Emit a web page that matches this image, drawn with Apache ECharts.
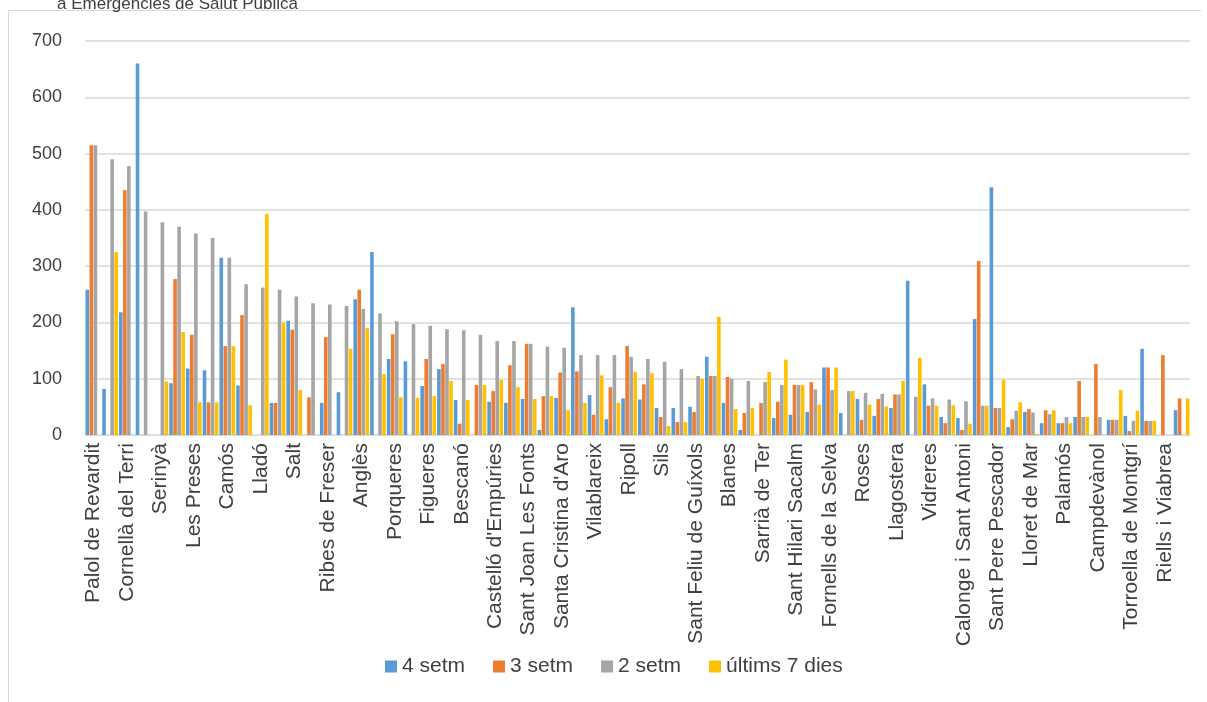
<!DOCTYPE html>
<html>
<head>
<meta charset="utf-8">
<script src="https://cdn.jsdelivr.net/npm/echarts@6/dist/echarts.min.js"></script>
<style>
  html, body { margin: 0; padding: 0; background: #fff; }
  #box { position: absolute; left: 8px; top: 10px; width: 1192px; height: 700px; border: 1px solid #d9d9d9; border-bottom: none; border-right: none; }
  #main { width: 1207px; height: 702px; }
</style>
</head>
<body>
<div id="box"></div>
<div id="main"></div>
<script>
// municipis (una etiqueta visible de cada dues)
var municipis = [
  'Palol de Revardit', 'Sant Julià de Ramis', 'Cornellà del Terri', 'Celrà', 'Serinyà', 'Sant Gregori',
  'Les Preses', 'Bordils', 'Camós', 'Vilobí d\'Onyar', 'Lladó', 'Cassà de la Selva', 'Salt', 'Besalú',
  'Ribes de Freser', 'Banyoles', 'Anglès', 'Olot', 'Porqueres', 'Quart', 'Figueres', 'Girona', 'Bescanó',
  'Sant Joan de les Abadesses', 'Castelló d\'Empúries', 'Llançà', 'Sant Joan Les Fonts', 'Breda',
  'Santa Cristina d\'Aro', 'Puigcerdà', 'Vilablareix', 'Castell-Platja d\'Aro', 'Ripoll', 'Sant Joan de Mollet',
  'Sils', 'Maçanet de la Selva', 'Sant Feliu de Guíxols', 'Hostalric', 'Blanes', 'Santa Coloma de Farners',
  'Sarrià de Ter', 'La Bisbal d\'Empordà', 'Sant Hilari Sacalm', 'Tossa de Mar', 'Fornells de la Selva',
  'Vilafant', 'Roses', 'Palafrugell', 'Llagostera', 'Arbúcies', 'Vidreres', 'L\'Escala',
  'Calonge i Sant Antoni', 'Caldes de Malavella', 'Sant Pere Pescador', 'Santa Cristina', 'Lloret de Mar',
  'Empuriabrava', 'Palamós', 'Sant Antoni', 'Campdevànol', 'Llagostera 2', 'Torroella de Montgrí',
  'Sant Jaume de Llierca', 'Riells i Viabrea', 'Massanes'
];
var setm4 = [258, 82, 218, 660, 0, 92, 118, 115, 315, 88, 0, 57, 203, 0, 57, 76, 241, 325, 135, 131, 87, 117,
  62, 0, 59, 57, 64, 9, 66, 227, 71, 28, 65, 63, 48, 48, 50, 139, 57, 9, 0, 30, 36, 41, 120, 39, 64, 34, 48, 274,
  90, 32, 30, 206, 440, 14, 41, 21, 21, 32, 0, 27, 34, 153, 0, 44];
var setm3 = [515, 0, 435, 0, 0, 277, 178, 58, 158, 213, 0, 57, 187, 67, 174, 0, 258, 0, 179, 0, 135, 126,
  20, 89, 78, 124, 162, 69, 111, 113, 36, 85, 158, 90, 32, 23, 41, 105, 103, 39, 57, 59, 89, 94, 120, 0, 27, 64, 72, 0,
  52, 21, 9, 309, 48, 28, 46, 44, 21, 96, 126, 27, 7, 25, 142, 65];
var setm2 = [515, 490, 478, 397, 378, 370, 358, 350, 315, 268, 262, 258, 246, 234, 232, 229, 224, 216, 202, 197, 194, 188,
  186, 178, 167, 167, 162, 157, 155, 142, 142, 142, 139, 135, 130, 117, 105, 105, 100, 96, 94, 89, 89, 81, 80, 78, 75, 73, 72, 68,
  65, 63, 60, 52, 48, 43, 40, 37, 32, 32, 32, 27, 25, 25, 0, 0];
var dies7 = [0, 325, 0, 0, 95, 183, 58, 58, 158, 53, 393, 200, 80, 0, 0, 153, 190, 108, 67, 66, 69, 96,
  62, 89, 98, 85, 64, 69, 44, 57, 106, 57, 112, 110, 16, 23, 100, 210, 46, 48, 112, 134, 89, 54, 120, 78, 54, 51, 96, 137,
  52, 53, 20, 52, 98, 58, 2, 44, 21, 32, 0, 80, 43, 25, 0, 65];
var yTicks = [0, 100, 200, 300, 400, 500, 600, 700];

var colors = ['#5b9bd5', '#ed7d31', '#a5a5a5', '#ffc000'];
var myChart = echarts.init(document.getElementById('main'));

function serie(nom, dades) {
  return { name: nom, type: 'bar', data: dades, barGap: '12%', barCategoryGap: '6%' };
}

var option = {
  color: colors,
  animation: false,
  title: {
    text: 'a Emergències de Salut Pública',
    left: 52, top: -9,
    textStyle: { fontFamily: 'Liberation Sans', fontSize: 17, fontWeight: 'normal', color: '#404040' }
  },
  legend: {
    bottom: 20, left: 380, itemWidth: 12, itemHeight: 12, itemGap: 28, icon: 'rect',
    textStyle: { fontFamily: 'Liberation Sans', fontSize: 21, color: '#404040' },
    data: ['4 setm', '3 setm', '2 setm', 'últims 7 dies']
  },
  grid: { left: 85, right: 17, top: 41, bottom: 267 },
  xAxis: {
    type: 'category', data: municipis,
    axisTick: { show: false },
    axisLine: { lineStyle: { color: '#d9d9d9' } },
    axisLabel: { interval: 1, rotate: 90, fontFamily: 'Liberation Sans', fontSize: 21, color: '#404040', margin: 8 }
  },
  yAxis: {
    type: 'value', min: yTicks[0], max: yTicks[yTicks.length - 1], interval: 100,
    axisLine: { show: false }, axisTick: { show: false },
    axisLabel: { fontFamily: 'Liberation Sans', fontSize: 18, color: '#404040', margin: 23 },
    splitLine: { lineStyle: { color: '#d9d9d9', width: 1.5 } }
  },
  series: [serie('4 setm', setm4), serie('3 setm', setm3), serie('2 setm', setm2), serie('últims 7 dies', dies7)]
};
myChart.setOption(option);
</script>
</body>
</html>
